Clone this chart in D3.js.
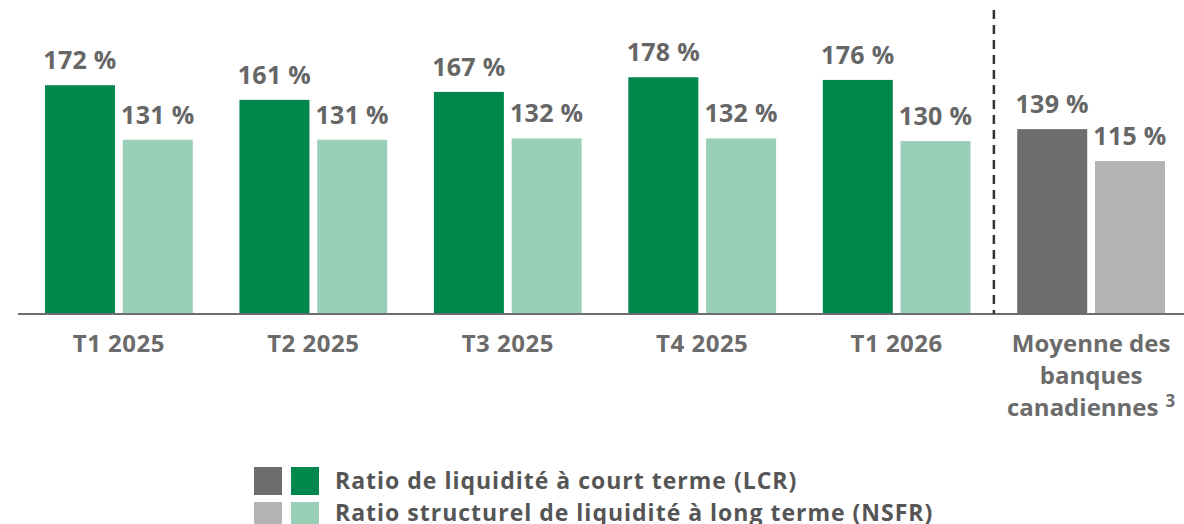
<!DOCTYPE html>
<html>
<head>
<meta charset="utf-8">
<script src="https://cdn.jsdelivr.net/npm/d3@7"></script>
<style>
  html, body { margin: 0; padding: 0; background: #fff; }
  svg { display: block; font-family: "Open Sans", Lato, sans-serif; }
</style>
</head>
<body>
<svg id="chart"></svg>
<script>
const categories = ['T1 2025', 'T2 2025', 'T3 2025', 'T4 2025', 'T1 2026', 'Moyenne des banques canadiennes'];
const categoryLines = [['T1 2025'], ['T2 2025'], ['T3 2025'], ['T4 2025'], ['T1 2026'], ['Moyenne des', 'banques', 'canadiennes']];
const lcrValues = [172, 161, 167, 178, 176, 139];
const nsfrValues = [131, 131, 132, 132, 130, 115];
const seriesKeys = ['LCR', 'NSFR'];
const legendLabels = ['Ratio de liquidité à court terme (LCR)', 'Ratio structurel de liquidité à long terme (NSFR)'];

const width = 1184, height = 524;
const baseline = 314;

const svg = d3.select('#chart').attr('width', width).attr('height', height);

const x = d3.scaleBand().domain(categories).range([45, 1165]).paddingInner(0.24).paddingOuter(0);
const xSub = d3.scaleBand().domain(seriesKeys).range([0, x.bandwidth()]).paddingInner(0.1);
const y = d3.scaleLinear().domain([0, 200]).range([baseline, baseline - 266]);

// bank average column uses grays, the rest greens
const fill = (i, key) => {
    const peer = i === categories.length - 1;
    if (key === 'LCR') return peer ? '#6d6d6d' : '#00874c';
    return peer ? '#b3b3b3' : '#99cfb7';
};

const rows = categories.map((c, i) => ({ cat: c, i, LCR: lcrValues[i], NSFR: nsfrValues[i] }));

const groups = svg.selectAll('.group')
    .data(rows)
    .enter()
    .append('g')
    .attr('class', 'group')
    .attr('transform', d => `translate(${x(d.cat)},0)`);

groups.selectAll('rect')
    .data(d => seriesKeys.map(k => ({ key: k, value: d[k], i: d.i })))
    .enter()
    .append('rect')
    .attr('x', d => xSub(d.key))
    .attr('y', d => y(d.value))
    .attr('width', xSub.bandwidth())
    .attr('height', d => baseline - y(d.value))
    .attr('fill', d => fill(d.i, d.key));

// Value labels
groups.selectAll('.val')
    .data(d => seriesKeys.map(k => ({ key: k, value: d[k] })))
    .enter()
    .append('text')
    .attr('class', 'val')
    .attr('x', d => xSub(d.key) + xSub.bandwidth() / 2)
    .attr('y', d => y(d.value) - 16)
    .attr('text-anchor', 'middle')
    .attr('font-size', '25px').attr('font-weight', '700').attr('fill', '#666')
    .attr('letter-spacing', '0.3px')
    .text(d => `${d.value} %`);

// Axis line
svg.append('line')
    .attr('x1', 18).attr('x2', width)
    .attr('y1', baseline).attr('y2', baseline)
    .attr('stroke', '#6d6d6d').attr('stroke-width', 2);

// Separator before peer average
const sepX = x(categories[5]) - x.step() * x.paddingInner() / 2;
svg.append('line')
    .attr('x1', sepX).attr('x2', sepX)
    .attr('y1', 10).attr('y2', baseline)
    .attr('stroke', '#333').attr('stroke-width', 2.5)
    .attr('stroke-dasharray', '9,6');

// Category labels
categories.forEach((c, i) => {
    const t = svg.append('text')
        .attr('x', x(c) + x.bandwidth() / 2)
        .attr('y', 352)
        .attr('text-anchor', 'middle')
        .attr('font-size', '24px').attr('font-weight', '700').attr('fill', '#6b6b6b')
        .attr('letter-spacing', i === categories.length - 1 ? '0px' : '0.5px');
    categoryLines[i].forEach((line, j) => {
        const ts = t.append('tspan')
            .attr('x', x(c) + x.bandwidth() / 2)
            .attr('dy', j === 0 ? 0 : 32)
            .text(line);
        if (i === categories.length - 1 && j === categoryLines[i].length - 1) {
            ts.append('tspan').attr('dx', 7).attr('dy', -9).attr('font-size', '17px').text('3');
        }
    });
});

// Legend
const legendColors = [['#6d6d6d', '#00874c'], ['#b3b3b3', '#99cfb7']];
legendLabels.forEach((label, r) => {
    const ly = 467 + r * 35;
    legendColors[r].forEach((col, k) => {
        svg.append('rect')
            .attr('x', 254 + k * 37).attr('y', ly)
            .attr('width', 28).attr('height', 28)
            .attr('fill', col);
    });
    svg.append('text')
        .attr('x', 335).attr('y', 489 + r * 32)
        .attr('font-size', '23px').attr('font-weight', '700').attr('fill', '#555')
        .attr('letter-spacing', '1px')
        .text(label);
});
</script>
</body>
</html>
